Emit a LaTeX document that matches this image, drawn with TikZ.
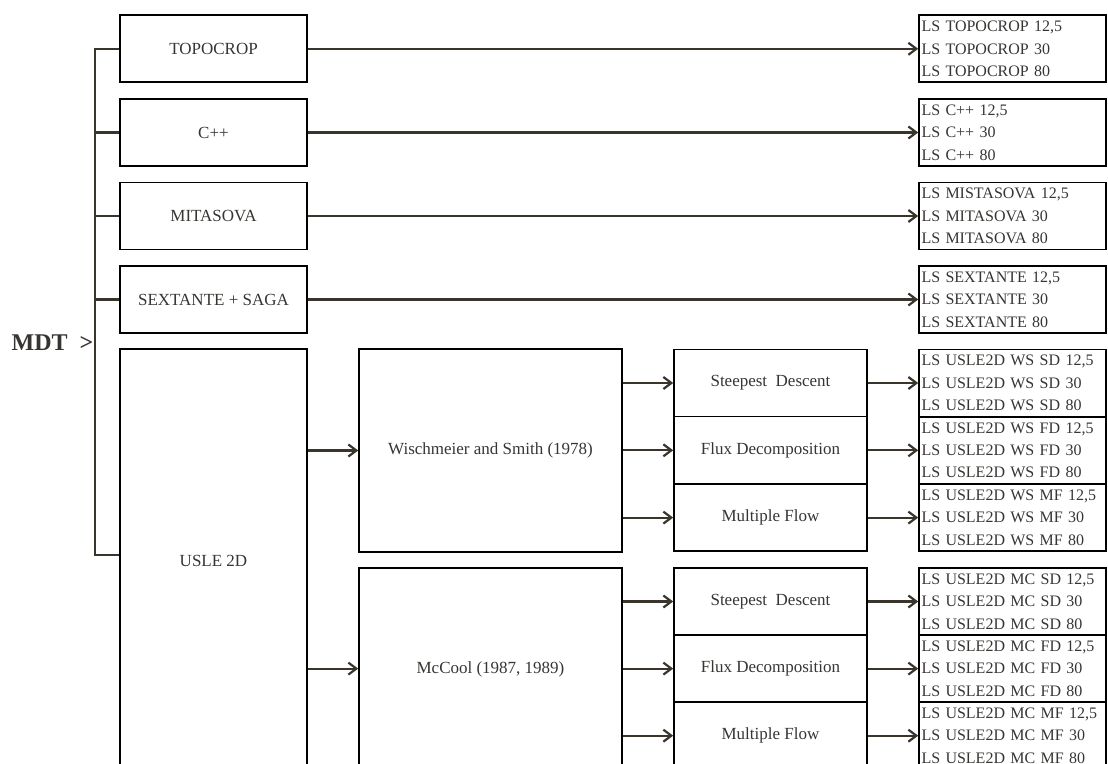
\documentclass[tikz,border=0pt]{standalone}
\usepackage{fontspec}
\setmainfont{Liberation Serif}
\usepackage{xcolor}
\usetikzlibrary{arrows.meta, positioning}
\definecolor{lineclr}{RGB}{58,53,44}
\definecolor{txtclr}{RGB}{55,53,50}

\begin{document}
\begin{tikzpicture}[
  x=0.5pt, y=-0.5pt,
  box/.style={draw, line width=0.8pt, minimum width=93.5pt,
              minimum height=33.5pt, inner sep=0pt, align=center,
              text=txtclr, font=\fontsize{8.5}{10}\selectfont},
  lsbox/.style={box, text width=91pt, inner xsep=1.25pt, align=left,
                font=\fontsize{8}{11.2}\selectfont},
  meth/.style={box, minimum width=96.5pt, minimum height=33.6pt},
  arr/.style={-{Straight Barb[length=4pt, width=6pt]}, line width=1.1pt,
              draw=lineclr},
  brk/.style={line width=1.2pt, draw=lineclr},
]
  \useasboundingbox (0,0) rectangle (1108,764);
  \clip (0,0) rectangle (1108,764);

  % Source models
  \node[box] (topo) at (213.5,48.8)  {TOPOCROP};
  \node[box] (cpp)  at (213.5,132.5) {C++};
  \node[box] (mita) at (213.5,216)   {MITASOVA};
  \node[box] (sext) at (213.5,299.5) {SEXTANTE + SAGA};
  \node[box, minimum height=212pt] (usle) at (213.5,561) {USLE 2D};

  \node[font=\bfseries\fontsize{12}{14}\selectfont, text=txtclr]
       (mdt) at (52.5,343) {MDT\ \ >};

  \draw[brk] (topo.west) -- ++(-24,0) |- ([yshift=3pt]usle.west);
  \draw[brk] (cpp.west)  -- ++(-24,0);
  \draw[brk] (mita.west) -- ++(-24,0);
  \draw[brk] (sext.west) -- ++(-24,0);

  % LS outputs of the single models
  \node[lsbox] (lstopo) at (1012.5,48.8)
        {LS TOPOCROP 12,5\\LS TOPOCROP 30\\LS TOPOCROP 80};
  \node[lsbox] (lscpp)  at (1012.5,132.5)
        {LS C++ 12,5\\LS C++ 30\\LS C++ 80};
  \node[lsbox] (lsmita) at (1012.5,216)
        {LS MISTASOVA 12,5\\LS MITASOVA 30\\LS MITASOVA 80};
  \node[lsbox] (lssext) at (1012.5,299.5)
        {LS SEXTANTE 12,5\\LS SEXTANTE 30\\LS SEXTANTE 80};

  \draw[arr] (topo) -- (lstopo);
  \draw[arr] (cpp)  -- (lscpp);
  \draw[arr] (mita) -- (lsmita);
  \draw[arr] (sext) -- (lssext);

  % USLE 2D: Wischmeier and Smith
  \node[box, minimum width=131.5pt, minimum height=101.5pt] (ws)
        at (490.5,450.5) {Wischmeier and Smith (1978)};
  \node[meth] (wssd) at (770.5,383)   {Steepest\ \ Descent};
  \node[meth] (wsfd) at (770.5,450.3) {Flux Decomposition};
  \node[meth] (wsmf) at (770.5,517.6) {Multiple Flow};

  \node[lsbox] (lswssd) at (1012.5,383)
        {LS USLE2D WS SD 12,5\\LS USLE2D WS SD 30\\LS USLE2D WS SD 80};
  \node[lsbox] (lswsfd) at (1012.5,450.3)
        {LS USLE2D WS FD 12,5\\LS USLE2D WS FD 30\\LS USLE2D WS FD 80};
  \node[lsbox] (lswsmf) at (1012.5,517.6)
        {LS USLE2D WS MF 12,5\\LS USLE2D WS MF 30\\LS USLE2D WS MF 80};

  \draw[arr] (usle.east |- ws.west) -- (ws.west);
  \draw[arr] (ws.east |- wssd.west) -- (wssd.west);
  \draw[arr] (ws.east |- wsfd.west) -- (wsfd.west);
  \draw[arr] (ws.east |- wsmf.west) -- (wsmf.west);
  \draw[arr] (wssd) -- (lswssd);
  \draw[arr] (wsfd) -- (lswsfd);
  \draw[arr] (wsmf) -- (lswsmf);

  % USLE 2D: McCool
  \node[box, minimum width=131.5pt, minimum height=101pt] (mc)
        at (490.5,669) {McCool (1987, 1989)};
  \node[meth] (mcsd) at (770.5,601.5) {Steepest\ \ Descent};
  \node[meth] (mcfd) at (770.5,668.6) {Flux Decomposition};
  \node[meth] (mcmf) at (770.5,735.7) {Multiple Flow};

  \node[lsbox] (lsmcsd) at (1012.5,601.5)
        {LS USLE2D MC SD 12,5\\LS USLE2D MC SD 30\\LS USLE2D MC SD 80};
  \node[lsbox] (lsmcfd) at (1012.5,668.6)
        {LS USLE2D MC FD 12,5\\LS USLE2D MC FD 30\\LS USLE2D MC FD 80};
  \node[lsbox] (lsmcmf) at (1012.5,735.7)
        {LS USLE2D MC MF 12,5\\LS USLE2D MC MF 30\\LS USLE2D MC MF 80};

  \draw[arr] (usle.east |- mcfd.west) -- (mc.west |- mcfd.west);
  \draw[arr] (mc.east |- mcsd.west) -- (mcsd.west);
  \draw[arr] (mc.east |- mcfd.west) -- (mcfd.west);
  \draw[arr] (mc.east |- mcmf.west) -- (mcmf.west);
  \draw[arr] (mcsd) -- (lsmcsd);
  \draw[arr] (mcfd) -- (lsmcfd);
  \draw[arr] (mcmf) -- (lsmcmf);
\end{tikzpicture}
\end{document}
